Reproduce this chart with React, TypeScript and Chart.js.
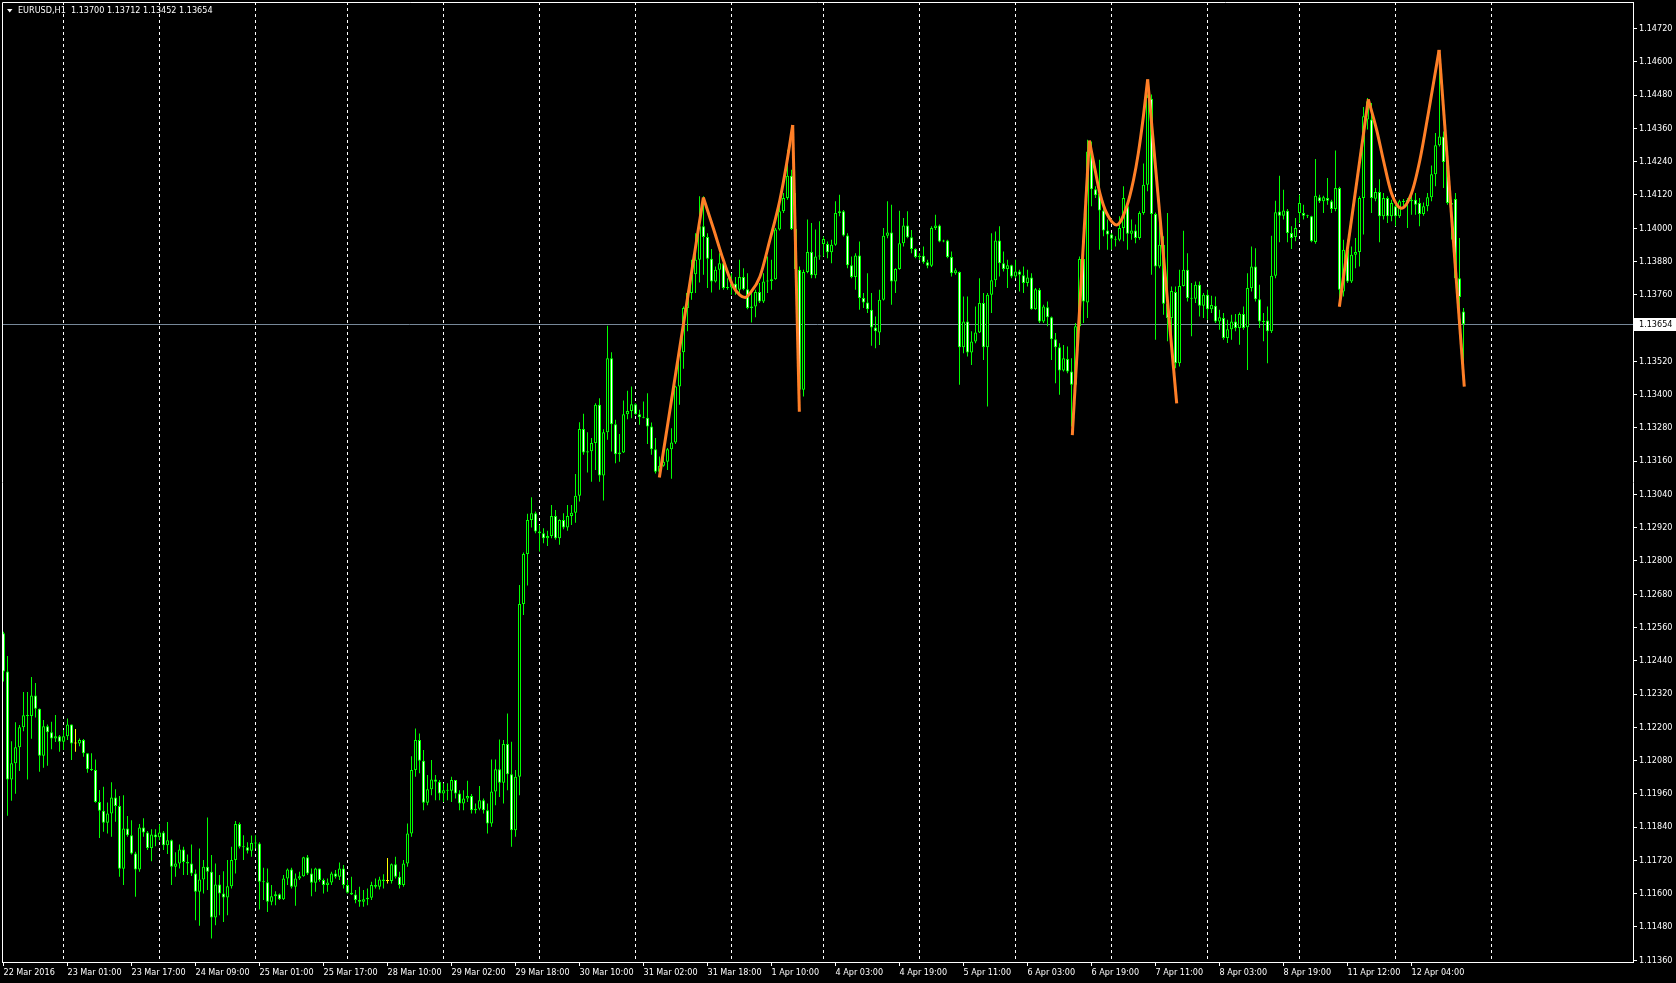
import React, { useEffect, useRef } from "react";
import { Chart, registerables } from "chart.js";

Chart.register(...registerables);

// ---------------- DATA ----------------
const chartTitle = "EURUSD,H1  1.13700 1.13712 1.13452 1.13654";
const bidPrice = 1.13654;

const timeLabels = [
  "22 Mar 2016", "23 Mar 01:00", "23 Mar 17:00", "24 Mar 09:00", "25 Mar 01:00", "25 Mar 17:00",
  "28 Mar 10:00", "29 Mar 02:00", "29 Mar 18:00", "30 Mar 10:00", "31 Mar 02:00", "31 Mar 18:00",
  "1 Apr 10:00", "4 Apr 03:00", "4 Apr 19:00", "5 Apr 11:00", "6 Apr 03:00", "6 Apr 19:00",
  "7 Apr 11:00", "8 Apr 03:00", "8 Apr 19:00", "11 Apr 12:00", "12 Apr 04:00",
];
const timeLabelBars = [0, 16, 32, 48, 64, 80, 96, 112, 128, 144, 160, 176, 192, 208, 224, 240, 256, 272, 288, 304, 320, 336, 352];
const dayStartBars = [15, 39, 63, 86, 110, 134, 158, 182, 205, 229, 253, 277, 301, 324, 348, 372];

const priceTicks = [
  1.1136, 1.1148, 1.116, 1.1172, 1.1184, 1.1196, 1.1208, 1.122, 1.1232, 1.1244,
  1.1256, 1.1268, 1.128, 1.1292, 1.1304, 1.1316, 1.1328, 1.134, 1.1352, 1.1364,
  1.1376, 1.1388, 1.14, 1.1412, 1.1424, 1.1436, 1.1448, 1.146, 1.1472,
];
const priceMin = 1.113535;
const priceMax = 1.148159;
const barMin = -0.375;
const barMax = 407.375;

const opens = [
  1.12539, 1.12401, 1.12012, 1.1207, 1.12128, 1.122, 1.12243, 1.12241, 1.12315, 1.12267,
  1.12097, 1.12204, 1.12182, 1.1216, 1.12168, 1.12148, 1.12168, 1.1221, 1.12142, 1.12142,
  1.12154, 1.12106, 1.12049, 1.12046, 1.11931, 1.11899, 1.11856, 1.11889, 1.11947, 1.11916,
  1.1169, 1.11835, 1.11811, 1.11745, 1.11687, 1.11839, 1.11821, 1.11765, 1.11813, 1.11803,
  1.11821, 1.11775, 1.11793, 1.11697, 1.11709, 1.11759, 1.11714, 1.11709, 1.11673, 1.11607,
  1.11651, 1.11697, 1.11679, 1.11514, 1.11633, 1.11601, 1.11586, 1.11627, 1.11721, 1.11851,
  1.11769, 1.11767, 1.11755, 1.11783, 1.11781, 1.11643, 1.11641, 1.11571, 1.11591, 1.11598,
  1.1158, 1.11655, 1.11687, 1.11625, 1.11655, 1.11663, 1.11731, 1.11673, 1.11639, 1.11691,
  1.11649, 1.11631, 1.1164, 1.11673, 1.11661, 1.11691, 1.11631, 1.11603, 1.11597, 1.11577,
  1.11571, 1.1158, 1.11585, 1.11631, 1.11625, 1.11651, 1.11646, 1.11646, 1.11706, 1.11661,
  1.11631, 1.11709, 1.11817, 1.12046, 1.12154, 1.12079, 1.11928, 1.11977, 1.12012, 1.12004,
  1.11961, 1.11973, 1.11971, 1.1201, 1.11961, 1.11925, 1.11943, 1.11952, 1.11901, 1.11906,
  1.11937, 1.11901, 1.11853, 1.11968, 1.12049, 1.12, 1.1214, 1.12031, 1.11829, 1.12022,
  1.12645, 1.12825, 1.12948, 1.12972, 1.12906, 1.129, 1.12882, 1.1289, 1.12962, 1.12882,
  1.12948, 1.12921, 1.12962, 1.12974, 1.13035, 1.13276, 1.13191, 1.13196, 1.13225, 1.13363,
  1.13108, 1.13264, 1.13531, 1.13293, 1.13185, 1.13191, 1.13329, 1.13341, 1.13365, 1.13329,
  1.13318, 1.13316, 1.13285, 1.13203, 1.13122, 1.13143, 1.13158, 1.13203, 1.13227, 1.13429,
  1.13553, 1.13712, 1.13766, 1.13834, 1.13886, 1.14007, 1.13968, 1.1389, 1.13808, 1.1385,
  1.13874, 1.13784, 1.13786, 1.138, 1.13778, 1.13824, 1.1378, 1.13712, 1.13718, 1.1377,
  1.13736, 1.13808, 1.1381, 1.13816, 1.13995, 1.14061, 1.14109, 1.14189, 1.13997, 1.1385,
  1.13417, 1.13842, 1.13914, 1.1383, 1.13898, 1.13943, 1.13943, 1.13913, 1.1394, 1.14055,
  1.14061, 1.13974, 1.13866, 1.13824, 1.13902, 1.13748, 1.13732, 1.13706, 1.13642, 1.13624,
  1.13742, 1.13973, 1.13985, 1.13808, 1.13853, 1.13946, 1.1401, 1.13967, 1.13925, 1.13896,
  1.13901, 1.13877, 1.13865, 1.14001, 1.1401, 1.13952, 1.13956, 1.13896, 1.13838, 1.13842,
  1.13571, 1.13664, 1.13552, 1.13591, 1.13624, 1.1373, 1.13571, 1.1376, 1.13812, 1.13956,
  1.13874, 1.13853, 1.13866, 1.13826, 1.13844, 1.1383, 1.13802, 1.13822, 1.13708, 1.13778,
  1.13664, 1.13715, 1.13679, 1.136, 1.13571, 1.13487, 1.13528, 1.13483, 1.13435, 1.13646,
  1.13889, 1.13732, 1.14277, 1.14141, 1.14125, 1.14064, 1.13992, 1.13977, 1.13962, 1.13958,
  1.14001, 1.14079, 1.1398, 1.13992, 1.13965, 1.14055, 1.14157, 1.14467, 1.14051, 1.13862,
  1.1394, 1.13728, 1.13676, 1.1377, 1.13513, 1.13792, 1.1385, 1.13748, 1.13746, 1.13796,
  1.1372, 1.1376, 1.13708, 1.1372, 1.13664, 1.13676, 1.13604, 1.13636, 1.13664, 1.1364,
  1.13691, 1.13643, 1.13784, 1.13862, 1.13744, 1.13664, 1.13667, 1.13628, 1.13829, 1.1406,
  1.14045, 1.14063, 1.13983, 1.13968, 1.14055, 1.14055, 1.14045, 1.14043, 1.1395, 1.14112,
  1.14097, 1.14109, 1.14097, 1.14069, 1.14145, 1.13772, 1.13922, 1.13808, 1.13904, 1.13914,
  1.14109, 1.14392, 1.14392, 1.14106, 1.14131, 1.14043, 1.14109, 1.14043, 1.14079, 1.14043,
  1.14097, 1.14093, 1.14103, 1.14103, 1.14091, 1.14051, 1.14079, 1.14112, 1.14195, 1.14299,
  1.14331, 1.14239, 1.14091, 1.14105, 1.1382, 1.137,
];

const highs = [
  1.12545, 1.12457, 1.1215, 1.12218, 1.12208, 1.12327, 1.12327, 1.12381, 1.1236, 1.12268,
  1.12226, 1.1221, 1.1222, 1.12244, 1.12172, 1.1219, 1.12232, 1.1221, 1.12194, 1.1216,
  1.12158, 1.12106, 1.12106, 1.12084, 1.11974, 1.11986, 1.11929, 1.12002, 1.11977, 1.11952,
  1.11955, 1.1188, 1.11865, 1.11751, 1.11851, 1.11872, 1.11826, 1.11832, 1.11832, 1.1185,
  1.11826, 1.11858, 1.11795, 1.11749, 1.11777, 1.11769, 1.11741, 1.11777, 1.11687, 1.11763,
  1.11721, 1.11875, 1.11739, 1.11709, 1.11667, 1.11681, 1.11721, 1.11769, 1.11862, 1.11857,
  1.11811, 1.11785, 1.1181, 1.11811, 1.11785, 1.11693, 1.11691, 1.11631, 1.11609, 1.11601,
  1.11667, 1.11691, 1.11693, 1.11673, 1.11679, 1.11733, 1.11739, 1.11691, 1.11693, 1.11691,
  1.11655, 1.11655, 1.11679, 1.11685, 1.11712, 1.11703, 1.11649, 1.11661, 1.11613, 1.11625,
  1.11613, 1.11619, 1.11643, 1.11655, 1.11661, 1.1167, 1.11729, 1.11709, 1.11733, 1.11679,
  1.11721, 1.11853, 1.12096, 1.12196, 1.12178, 1.12118, 1.12028, 1.12082, 1.12028, 1.1201,
  1.11998, 1.11998, 1.12022, 1.1201, 1.11973, 1.11973, 1.12007, 1.11959, 1.11925, 1.11988,
  1.11943, 1.11925, 1.12084, 1.12084, 1.12156, 1.12154, 1.1225, 1.12148, 1.12046, 1.12713,
  1.1283, 1.1297, 1.1303, 1.12978, 1.1293, 1.12918, 1.12909, 1.13002, 1.12984, 1.1295,
  1.12972, 1.13002, 1.13002, 1.13114, 1.133, 1.13331, 1.13264, 1.13243, 1.13369, 1.13387,
  1.13275, 1.13648, 1.13553, 1.13309, 1.13258, 1.13379, 1.13414, 1.13429, 1.13369, 1.13345,
  1.13375, 1.13405, 1.13299, 1.13243, 1.13177, 1.13177, 1.13207, 1.13279, 1.13432, 1.1358,
  1.13718, 1.13772, 1.13886, 1.13982, 1.14115, 1.14115, 1.13982, 1.13925, 1.13862, 1.1391,
  1.13877, 1.1382, 1.13838, 1.13824, 1.13886, 1.13856, 1.13838, 1.13778, 1.13778, 1.13802,
  1.13838, 1.13898, 1.13886, 1.14001, 1.14079, 1.14127, 1.14283, 1.14211, 1.14127, 1.13862,
  1.1385, 1.14031, 1.14019, 1.13995, 1.14025, 1.1397, 1.13952, 1.13958, 1.14097, 1.14121,
  1.14066, 1.13982, 1.13898, 1.1391, 1.13952, 1.13766, 1.13838, 1.13766, 1.13682, 1.13778,
  1.14001, 1.14097, 1.14085, 1.13856, 1.14063, 1.14037, 1.14061, 1.13994, 1.13928, 1.1391,
  1.13934, 1.13886, 1.14007, 1.14049, 1.14013, 1.13958, 1.13958, 1.13916, 1.13856, 1.13844,
  1.13754, 1.13754, 1.13628, 1.13718, 1.1382, 1.13766, 1.13766, 1.13982, 1.13988, 1.14007,
  1.13916, 1.13886, 1.13868, 1.13886, 1.1385, 1.13862, 1.1385, 1.13838, 1.13784, 1.13784,
  1.13724, 1.13736, 1.13682, 1.13622, 1.13585, 1.13579, 1.13573, 1.13531, 1.13658, 1.13898,
  1.13922, 1.14319, 1.14313, 1.14151, 1.14247, 1.14079, 1.14031, 1.13983, 1.13971, 1.14043,
  1.14151, 1.14091, 1.14031, 1.14013, 1.14061, 1.14233, 1.14482, 1.14482, 1.14057, 1.14055,
  1.13971, 1.14055, 1.1379, 1.1379, 1.1385, 1.13991, 1.1391, 1.13802, 1.13808, 1.13808,
  1.13766, 1.13778, 1.13756, 1.13754, 1.13706, 1.13694, 1.1367, 1.13688, 1.13691, 1.13696,
  1.13718, 1.13838, 1.13934, 1.13928, 1.13796, 1.13694, 1.13718, 1.13973, 1.14099, 1.14189,
  1.14139, 1.14069, 1.14007, 1.14037, 1.14121, 1.14085, 1.14049, 1.14045, 1.1425, 1.14121,
  1.14117, 1.14181, 1.14103, 1.1428, 1.1415, 1.13958, 1.13958, 1.13934, 1.13965, 1.14115,
  1.14437, 1.1447, 1.14452, 1.14145, 1.14177, 1.14127, 1.14115, 1.14103, 1.14085, 1.14103,
  1.14105, 1.14109, 1.14121, 1.14127, 1.14109, 1.14093, 1.14127, 1.14226, 1.14343, 1.14632,
  1.14349, 1.14283, 1.14103, 1.14127, 1.13965, 1.13712,
];

const lows = [
  1.12365, 1.11881, 1.11935, 1.1196, 1.12042, 1.12186, 1.12012, 1.12159, 1.12235, 1.1204,
  1.12054, 1.12061, 1.12121, 1.12147, 1.12112, 1.12118, 1.12154, 1.12082, 1.12112, 1.12132,
  1.12094, 1.12036, 1.12042, 1.11928, 1.11801, 1.11823, 1.11817, 1.11805, 1.11859, 1.11661,
  1.11631, 1.11805, 1.11741, 1.11589, 1.11679, 1.11805, 1.11757, 1.11717, 1.11771, 1.11793,
  1.11757, 1.11743, 1.11631, 1.11661, 1.11691, 1.11667, 1.11667, 1.11664, 1.11504, 1.11484,
  1.11601, 1.11613, 1.11438, 1.11486, 1.11522, 1.11498, 1.11522, 1.11619, 1.11673, 1.11763,
  1.11721, 1.11745, 1.11733, 1.11763, 1.11543, 1.11577, 1.11534, 1.11558, 1.11558, 1.11577,
  1.11577, 1.11631, 1.11619, 1.11556, 1.11649, 1.11661, 1.11667, 1.11591, 1.11607, 1.11643,
  1.11601, 1.11607, 1.11631, 1.11655, 1.11649, 1.11619, 1.11601, 1.11595, 1.11565, 1.11553,
  1.11553, 1.11558, 1.11577, 1.11619, 1.11615, 1.11619, 1.11637, 1.11637, 1.11655, 1.11619,
  1.11625, 1.11697, 1.11805, 1.12022, 1.12034, 1.11901, 1.11919, 1.11955, 1.11937, 1.11937,
  1.11931, 1.11937, 1.11931, 1.11943, 1.11901, 1.11901, 1.11931, 1.11889, 1.11889, 1.11901,
  1.11889, 1.11817, 1.11841, 1.11919, 1.11949, 1.11925, 1.11973, 1.11769, 1.11805, 1.11955,
  1.12605, 1.12711, 1.12921, 1.129, 1.12834, 1.12864, 1.12854, 1.12882, 1.12876, 1.12858,
  1.12914, 1.12909, 1.1293, 1.12938, 1.13014, 1.13183, 1.13119, 1.13086, 1.13128, 1.13086,
  1.13018, 1.13237, 1.13195, 1.13152, 1.13158, 1.13189, 1.13311, 1.13315, 1.13327, 1.13291,
  1.13315, 1.13222, 1.13183, 1.13115, 1.13118, 1.1314, 1.13128, 1.13096, 1.13222, 1.13363,
  1.13493, 1.13628, 1.13742, 1.13766, 1.13804, 1.13832, 1.13784, 1.13768, 1.13804, 1.13778,
  1.13778, 1.13778, 1.1376, 1.1376, 1.1376, 1.13776, 1.13708, 1.1366, 1.13679, 1.1373,
  1.1373, 1.13766, 1.13778, 1.13814, 1.13992, 1.14055, 1.14103, 1.13994, 1.13814, 1.13399,
  1.13393, 1.13838, 1.1382, 1.1382, 1.13886, 1.13898, 1.13892, 1.13874, 1.13937, 1.14043,
  1.1397, 1.13856, 1.1382, 1.13778, 1.13706, 1.13712, 1.13694, 1.13576, 1.13567, 1.13579,
  1.13739, 1.13964, 1.13724, 1.13766, 1.1385, 1.13934, 1.13964, 1.1391, 1.13892, 1.13886,
  1.13872, 1.13856, 1.1386, 1.13994, 1.13949, 1.13949, 1.13892, 1.13826, 1.13832, 1.13435,
  1.13549, 1.13537, 1.13507, 1.13585, 1.13622, 1.13525, 1.13357, 1.13694, 1.13788, 1.13826,
  1.13844, 1.13784, 1.1382, 1.1382, 1.13772, 1.13766, 1.1379, 1.13706, 1.13706, 1.13658,
  1.13658, 1.13646, 1.13525, 1.13441, 1.13399, 1.13483, 1.13477, 1.13285, 1.13405, 1.13634,
  1.13658, 1.13676, 1.14079, 1.14109, 1.13922, 1.13971, 1.13922, 1.13922, 1.13934, 1.13953,
  1.13953, 1.13922, 1.13958, 1.13946, 1.13958, 1.14049, 1.14133, 1.13832, 1.13598, 1.13856,
  1.13688, 1.13592, 1.13616, 1.13495, 1.13501, 1.1379, 1.13736, 1.1361, 1.1373, 1.13682,
  1.13676, 1.1367, 1.13694, 1.13658, 1.13634, 1.13598, 1.13586, 1.13598, 1.13628, 1.1358,
  1.13634, 1.13489, 1.13772, 1.13736, 1.1364, 1.13592, 1.13513, 1.13622, 1.1382, 1.13949,
  1.14031, 1.13949, 1.13925, 1.13953, 1.14019, 1.14031, 1.14037, 1.13949, 1.13944, 1.14091,
  1.14055, 1.14085, 1.14055, 1.14061, 1.13736, 1.13754, 1.13802, 1.13802, 1.13856, 1.13862,
  1.13977, 1.14356, 1.14055, 1.14097, 1.13949, 1.14031, 1.14019, 1.14025, 1.14007, 1.14037,
  1.14079, 1.14001, 1.14049, 1.14049, 1.14007, 1.14045, 1.14061, 1.14097, 1.14151, 1.14295,
  1.14145, 1.14085, 1.13959, 1.13802, 1.13706, 1.13452,
];

const closes = [
  1.12401, 1.12012, 1.1207, 1.12128, 1.122, 1.12243, 1.12241, 1.12315, 1.12267, 1.12097,
  1.12204, 1.12182, 1.1216, 1.12168, 1.12148, 1.12168, 1.1221, 1.12142, 1.12142, 1.12154,
  1.12106, 1.12049, 1.12046, 1.11931, 1.11899, 1.11856, 1.11889, 1.11947, 1.11916, 1.1169,
  1.11835, 1.11811, 1.11745, 1.11687, 1.11839, 1.11821, 1.11765, 1.11813, 1.11803, 1.11821,
  1.11775, 1.11793, 1.11697, 1.11709, 1.11759, 1.11714, 1.11709, 1.11673, 1.11607, 1.11651,
  1.11697, 1.11679, 1.11514, 1.11633, 1.11601, 1.11586, 1.11627, 1.11721, 1.11851, 1.11769,
  1.11767, 1.11755, 1.11783, 1.11781, 1.11643, 1.11641, 1.11571, 1.11591, 1.11598, 1.1158,
  1.11655, 1.11687, 1.11625, 1.11655, 1.11663, 1.11731, 1.11673, 1.11639, 1.11691, 1.11649,
  1.11631, 1.1164, 1.11673, 1.11661, 1.11691, 1.11631, 1.11603, 1.11597, 1.11577, 1.11571,
  1.1158, 1.11585, 1.11631, 1.11625, 1.11651, 1.11646, 1.11646, 1.11706, 1.11661, 1.11631,
  1.11709, 1.11817, 1.12046, 1.12154, 1.12079, 1.11928, 1.11977, 1.12012, 1.12004, 1.11961,
  1.11973, 1.11971, 1.1201, 1.11961, 1.11925, 1.11943, 1.11952, 1.11901, 1.11906, 1.11937,
  1.11901, 1.11853, 1.11968, 1.12049, 1.12, 1.1214, 1.12031, 1.11829, 1.12022, 1.12645,
  1.12825, 1.12948, 1.12972, 1.12906, 1.129, 1.12882, 1.1289, 1.12962, 1.12882, 1.12948,
  1.12921, 1.12962, 1.12974, 1.13035, 1.13276, 1.13191, 1.13196, 1.13225, 1.13363, 1.13108,
  1.13264, 1.13531, 1.13293, 1.13185, 1.13191, 1.13329, 1.13341, 1.13365, 1.13329, 1.13318,
  1.13316, 1.13285, 1.13203, 1.13122, 1.13143, 1.13158, 1.13203, 1.13227, 1.13429, 1.13553,
  1.13712, 1.13766, 1.13834, 1.13886, 1.14007, 1.13968, 1.1389, 1.13808, 1.1385, 1.13874,
  1.13784, 1.13786, 1.138, 1.13778, 1.13824, 1.1378, 1.13712, 1.13718, 1.1377, 1.13736,
  1.13808, 1.1381, 1.13816, 1.13995, 1.14061, 1.14109, 1.14189, 1.13997, 1.13853, 1.13417,
  1.13842, 1.13914, 1.1383, 1.13898, 1.13901, 1.13961, 1.13913, 1.1394, 1.14055, 1.14061,
  1.13974, 1.13866, 1.13824, 1.13902, 1.13748, 1.13732, 1.13708, 1.13642, 1.13628, 1.13742,
  1.13973, 1.13985, 1.13808, 1.13853, 1.13946, 1.1401, 1.13967, 1.13925, 1.13896, 1.13901,
  1.13877, 1.13865, 1.14001, 1.1401, 1.13952, 1.13956, 1.13896, 1.13838, 1.13848, 1.13571,
  1.13664, 1.13552, 1.13591, 1.13624, 1.1373, 1.13571, 1.1376, 1.13812, 1.13956, 1.13874,
  1.13853, 1.13866, 1.13826, 1.13844, 1.13832, 1.13802, 1.13822, 1.13708, 1.1378, 1.13664,
  1.13718, 1.13679, 1.136, 1.13571, 1.13487, 1.13531, 1.13483, 1.13435, 1.13646, 1.13889,
  1.13736, 1.14277, 1.14141, 1.14119, 1.14064, 1.13992, 1.13977, 1.13962, 1.13958, 1.14001,
  1.14109, 1.1398, 1.13992, 1.13965, 1.14055, 1.14157, 1.14473, 1.14051, 1.13862, 1.1394,
  1.13728, 1.13676, 1.13774, 1.13513, 1.13792, 1.1385, 1.13748, 1.13746, 1.13796, 1.1372,
  1.1376, 1.13708, 1.13723, 1.13664, 1.13679, 1.13604, 1.13636, 1.13664, 1.1364, 1.13691,
  1.1364, 1.13784, 1.13862, 1.13744, 1.13664, 1.13662, 1.13628, 1.13829, 1.14058, 1.14045,
  1.14064, 1.13983, 1.13965, 1.14001, 1.14091, 1.14045, 1.14043, 1.13953, 1.14117, 1.14097,
  1.14112, 1.14099, 1.14069, 1.14145, 1.13778, 1.13922, 1.13808, 1.13904, 1.13914, 1.14109,
  1.14404, 1.14458, 1.14109, 1.14131, 1.14043, 1.14109, 1.14043, 1.14091, 1.14043, 1.14097,
  1.14095, 1.14103, 1.14097, 1.14085, 1.14051, 1.14079, 1.14112, 1.14195, 1.14299, 1.14331,
  1.14239, 1.14091, 1.14085, 1.1382, 1.13752, 1.13654,
];

// Orange pattern indicator: straight legs and curved arcs (bar index, price)
const wave1Rise = [{ x: 163.96, y: 1.13101 }, { x: 174.96, y: 1.14111 }];
const wave1Arc = [
  { x: 174.96, y: 1.14111 }, { x: 177.46, y: 1.14 }, { x: 179.96, y: 1.13885 }, { x: 182.46, y: 1.13789 },
  { x: 184.1, y: 1.13759 }, { x: 185.4, y: 1.1375 }, { x: 186.6, y: 1.13765 }, { x: 189.1, y: 1.13825 },
  { x: 191.6, y: 1.13958 }, { x: 194.1, y: 1.14102 }, { x: 195.8, y: 1.14234 }, { x: 197.3, y: 1.14372 },
];
const wave1Drop = [{ x: 197.3, y: 1.14372 }, { x: 198.96, y: 1.13338 }];

const wave2Rise = [{ x: 267.2, y: 1.13254 }, { x: 271.46, y: 1.14316 }];
const wave2Arc = [
  { x: 271.46, y: 1.14316 }, { x: 272.9, y: 1.1421 }, { x: 274.1, y: 1.14126 }, { x: 275.8, y: 1.14054 },
  { x: 278.3, y: 1.14012 }, { x: 280.8, y: 1.14078 }, { x: 282.5, y: 1.14174 }, { x: 283.7, y: 1.1427 },
  { x: 284.96, y: 1.14402 }, { x: 286.04, y: 1.14537 },
];
const wave2Drop = [{ x: 286.04, y: 1.14537 }, { x: 293.3, y: 1.13368 }];

const wave3Rise = [{ x: 333.96, y: 1.13717 }, { x: 341.2, y: 1.14465 }];
const wave3Arc = [
  { x: 341.2, y: 1.14465 }, { x: 343.3, y: 1.14354 }, { x: 344.96, y: 1.14246 }, { x: 347.0, y: 1.14126 },
  { x: 349.5, y: 1.14072 }, { x: 352.0, y: 1.14126 }, { x: 354.1, y: 1.14246 }, { x: 356.2, y: 1.14414 },
  { x: 358.9, y: 1.14643 },
];
const wave3Drop = [{ x: 358.9, y: 1.14643 }, { x: 365.2, y: 1.13429 }];

// ---------------- STYLE ----------------
const FONT = '"DejaVu Sans Condensed", "Liberation Sans", Arial, sans-serif';
const LIME = "#00ff00";
const DOJI = "#ffff00";
const ORANGE = "#ff7f27";
const BIDLINE = "#778899";

const mtPlugin = {
  id: "mtDecor",
  beforeDraw(chart: any) {
    const { ctx, width, height } = chart;
    ctx.save();
    ctx.fillStyle = "#000000";
    ctx.fillRect(0, 0, width, height);
    ctx.restore();
  },
  beforeDatasetsDraw(chart: any) {
    const { ctx, chartArea, scales } = chart;
    ctx.save();
    ctx.strokeStyle = "#ffffff";
    ctx.lineWidth = 1;
    ctx.setLineDash([3, 3]);
    for (const d of dayStartBars) {
      const x = Math.floor(scales.x.getPixelForValue(d)) + 0.5;
      if (x >= chartArea.right) continue;
      ctx.beginPath();
      ctx.moveTo(x, chartArea.top);
      ctx.lineTo(x, chartArea.bottom);
      ctx.stroke();
    }
    ctx.setLineDash([]);
    const yb = Math.floor(scales.y.getPixelForValue(bidPrice)) + 0.5;
    ctx.strokeStyle = BIDLINE;
    ctx.beginPath();
    ctx.moveTo(chartArea.left, yb);
    ctx.lineTo(chartArea.right, yb);
    ctx.stroke();
    ctx.restore();
  },
  afterDraw(chart: any) {
    const { ctx, chartArea, scales, width } = chart;
    ctx.save();
    // frame (left + top)
    ctx.strokeStyle = "#ffffff";
    ctx.lineWidth = 1;
    ctx.beginPath();
    ctx.moveTo(chartArea.left + 0.5, chartArea.bottom);
    ctx.lineTo(chartArea.left + 0.5, chartArea.top + 0.5);
    ctx.lineTo(chartArea.right, chartArea.top + 0.5);
    ctx.stroke();
    // title
    ctx.fillStyle = "#ffffff";
    ctx.beginPath();
    ctx.moveTo(7, 9);
    ctx.lineTo(12.5, 9);
    ctx.lineTo(9.75, 12.5);
    ctx.closePath();
    ctx.fill();
    ctx.font = `9px ${FONT}`;
    ctx.textBaseline = "middle";
    ctx.textAlign = "left";
    ctx.fillText(chartTitle, 18, 11);
    // bid price label box
    const yb = Math.floor(scales.y.getPixelForValue(bidPrice)) + 0.5;
    ctx.fillStyle = "#ffffff";
    ctx.fillRect(chartArea.right + 1, yb - 6.5, width - chartArea.right - 1, 13);
    ctx.fillStyle = "#000000";
    ctx.fillText(bidPrice.toFixed(5), chartArea.right + 6, yb + 0.5);
    ctx.restore();
  },
};

export default function App() {
  const ref = useRef<HTMLCanvasElement | null>(null);

  useEffect(() => {
    document.body.style.margin = "0";
    document.body.style.background = "#000000";
    const canvas = ref.current;
    if (!canvas) return;

    const wickData = highs.map((h, i) => ({ x: i, y: [lows[i], h] }));
    const bodyData = opens.map((o, i) => ({ x: i, y: [o, closes[i]] }));
    const isDoji = opens.map((o, i) => o === closes[i]);
    const bodyFill = opens.map((o, i) => (closes[i] < o ? "#ffffff" : "#000000"));
    const bodyBorder = isDoji.map((d) => (d ? DOJI : LIME));
    const wickColor = isDoji.map((d) => (d ? DOJI : LIME));

    const lineDs = (data: any[], curved: boolean) => ({
      type: "line",
      data,
      borderColor: ORANGE,
      borderWidth: 3,
      pointRadius: 0,
      pointHoverRadius: 0,
      fill: false,
      tension: 0,
      cubicInterpolationMode: curved ? "monotone" : "default",
      borderJoinStyle: "round",
      order: 0,
    });

    const chart = new Chart(canvas, {
      type: "bar",
      data: {
        datasets: [
          lineDs(wave1Rise, false), lineDs(wave1Arc, true), lineDs(wave1Drop, false),
          lineDs(wave2Rise, false), lineDs(wave2Arc, true), lineDs(wave2Drop, false),
          lineDs(wave3Rise, false), lineDs(wave3Arc, true), lineDs(wave3Drop, false),
          {
            type: "bar",
            data: bodyData,
            backgroundColor: bodyFill,
            borderColor: bodyBorder,
            borderWidth: 1,
            borderSkipped: false,
            barThickness: 3,
            minBarLength: 1,
            grouped: false,
            inflateAmount: 0,
            order: 1,
          },
          {
            type: "bar",
            data: wickData,
            backgroundColor: wickColor,
            borderWidth: 0,
            barThickness: 1,
            grouped: false,
            inflateAmount: 0,
            order: 2,
          },
        ] as any,
      },
      options: {
        responsive: false,
        animation: false,
        devicePixelRatio: 1,
        events: [],
        layout: { padding: { left: 2, top: 2, right: 0, bottom: 0 } },
        plugins: { legend: { display: false }, tooltip: { enabled: false } },
        scales: {
          x: {
            type: "linear",
            min: barMin,
            max: barMax,
            bounds: "data",
            offset: false,
            afterBuildTicks: (scale: any) => {
              scale.ticks = timeLabelBars.map((v) => ({ value: v }));
            },
            afterFit: (scale: any) => {
              scale.height = 21;
              scale.paddingLeft = 0;
              scale.paddingRight = 0;
            },
            grid: { display: true, drawOnChartArea: false, drawTicks: true, tickLength: 4, color: "#ffffff", lineWidth: 1, offset: false },
            border: { display: true, color: "#ffffff", width: 1 },
            ticks: {
              autoSkip: false,
              maxRotation: 0,
              minRotation: 0,
              align: "start",
              padding: 1,
              color: "#ffffff",
              font: { family: FONT, size: 9 },
              callback: (v: any) => {
                const k = timeLabelBars.indexOf(Number(v));
                return k >= 0 ? timeLabels[k] : "";
              },
            },
          },
          y: {
            type: "linear",
            position: "right",
            min: priceMin,
            max: priceMax,
            bounds: "data",
            beginAtZero: false,
            afterBuildTicks: (scale: any) => {
              scale.ticks = priceTicks.map((v) => ({ value: v }));
            },
            afterFit: (scale: any) => {
              scale.width = 43;
              scale.paddingTop = 0;
              scale.paddingBottom = 0;
            },
            grid: { display: true, drawOnChartArea: false, drawTicks: true, tickLength: 4, color: "#ffffff", lineWidth: 1 },
            border: { display: true, color: "#ffffff", width: 1 },
            ticks: {
              autoSkip: false,
              padding: 2,
              color: "#ffffff",
              font: { family: FONT, size: 9 },
              callback: (v: any) => Number(v).toFixed(5),
            },
          },
        },
      } as any,
      plugins: [mtPlugin],
    });

    return () => {
      chart.destroy();
    };
  }, []);

  return <canvas ref={ref} width={1676} height={983} style={{ display: "block" }} />;
}
